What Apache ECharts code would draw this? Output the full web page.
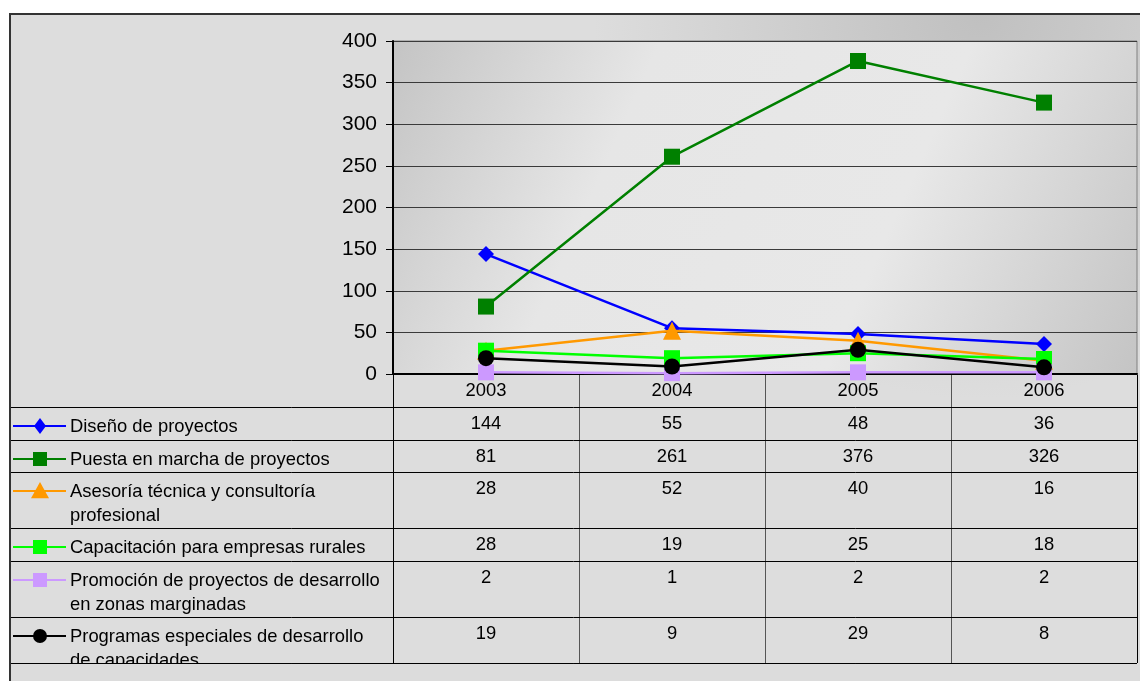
<!DOCTYPE html>
<html>
<head>
<meta charset="utf-8">
<script src="https://cdn.jsdelivr.net/npm/echarts@6/dist/echarts.min.js"></script>
<style>
  html, body { margin: 0; padding: 0; background: #fff; }
  #chart { width: 1140px; height: 681px; }
</style>
</head>
<body>
<div id="chart"></div>
<script>
var years = ['2003', '2004', '2005', '2006'];
var names = [
  'Diseño de proyectos',
  'Puesta en marcha de proyectos',
  'Asesoría técnica y consultoría\nprofesional',
  'Capacitación para empresas rurales',
  'Promoción de proyectos de desarrollo\nen zonas marginadas',
  'Programas especiales de desarrollo\nde capacidades'
];
var diseno = [144, 55, 48, 36];
var puesta = [81, 261, 376, 326];
var asesoria = [28, 52, 40, 16];
var capacitacion = [28, 19, 25, 18];
var promocion = [2, 1, 2, 2];
var programas = [19, 9, 29, 8];
var yTicks = [0, 50, 100, 150, 200, 250, 300, 350, 400];

var values = [diseno, puesta, asesoria, capacitacion, promocion, programas];
var colors = ['#0000ff', '#008000', '#ff9900', '#00ff00', '#cc99ff', '#000000'];
var symbols = ['diamond', 'rect', 'triangle', 'rect', 'rect', 'circle'];
var symSizes = [16, 16, 18, 16, 16, 16];

var font = '"Liberation Sans", Arial, sans-serif';
var chart = echarts.init(document.getElementById('chart'), null, { renderer: 'canvas' });

var series = values.map(function(v, i) {
  return {
    name: names[i].replace('\n', ' '),
    type: 'line',
    data: v,
    symbol: symbols[i],
    symbolSize: symSizes[i],
    showAllSymbol: true,
    lineStyle: { color: colors[i], width: 2.5 },
    itemStyle: { color: colors[i], borderWidth: 0 },
    z: 3 + i
  };
});

chart.setOption({
  animation: false,
  backgroundColor: '#ffffff',
  textStyle: { fontFamily: font },
  grid: {
    left: 393, top: 41, right: 3, bottom: 307,
    show: true,
    borderColor: '#808080',
    borderWidth: 1,
    backgroundColor: {
      type: 'linear', x: 0, y: 0, x2: 1, y2: 1,
      colorStops: [
        { offset: 0, color: '#c4c4c4' }, { offset: 0.3, color: '#e6e6e6' },
        { offset: 0.65, color: '#e8e8e8' }, { offset: 1, color: '#c4c4c4' }
      ]
    }
  },
  xAxis: {
    type: 'category',
    data: years,
    boundaryGap: true,
    axisLine: { lineStyle: { color: '#000', width: 2 } },
    axisTick: { show: false },
    axisLabel: { show: false },
    splitLine: { show: false }
  },
  yAxis: {
    type: 'value',
    min: yTicks[0],
    max: yTicks[yTicks.length - 1],
    interval: 50,
    axisLine: { show: true, lineStyle: { color: '#000', width: 2 } },
    axisTick: { show: true, length: 7, lineStyle: { color: '#000' } },
    axisLabel: { color: '#000', fontSize: 21, fontFamily: font, margin: 16 },
    splitLine: { lineStyle: { color: '#3a3a3a', width: 1 } }
  },
  series: series
});

// data table under the plot
var rowTops = [407, 440, 472, 528, 561, 617, 663];
var headTop = 375;
var tableLeft = 10;
var x0 = chart.convertToPixel({ xAxisIndex: 0 }, 0);
var x1 = chart.convertToPixel({ xAxisIndex: 0 }, 1);
var band = x1 - x0;
var colLeft = x0 - band / 2;
var colRight = colLeft + band * years.length;
var bottom = rowTops[rowTops.length - 1];
var tf = '18.4px ' + font;

var g = [];
// outer background + frame
g.push({
  type: 'rect', z: -10, silent: true,
  shape: { x: 10, y: 14, width: 1140, height: 700 },
  style: {
    fill: {
      type: 'radial', x: 0.85, y: 0, r: 0.55,
      colorStops: [{ offset: 0, color: '#c0c0c0' }, { offset: 1, color: '#dddddd' }]
    },
    stroke: '#333', lineWidth: 2
  }
});
// column lines
for (var c = 0; c <= years.length; c++) {
  var xc = Math.round(colLeft + band * c) + 0.5;
  g.push({ type: 'line', z: 50, silent: true,
    shape: { x1: xc, y1: headTop, x2: xc, y2: bottom },
    style: { stroke: c === 0 || c === years.length ? '#000' : '#555', lineWidth: 1 } });
}
// row lines
for (var r = 0; r < rowTops.length; r++) {
  g.push({ type: 'line', z: 50, silent: true,
    shape: { x1: tableLeft, y1: rowTops[r] + 0.5, x2: colRight, y2: rowTops[r] + 0.5 },
    style: { stroke: '#000', lineWidth: 1 } });
}
// year header
years.forEach(function(y, i) {
  g.push({ type: 'text', z: 50, silent: true,
    x: colLeft + band * (i + 0.5), y: headTop + 16,
    style: { text: y, fill: '#000', font: tf, align: 'center', verticalAlign: 'middle' } });
});
// rows
names.forEach(function(n, i) {
  var top = rowTops[i];
  var my = top + 19;
  g.push({ type: 'line', z: 50, silent: true,
    shape: { x1: 13, y1: my, x2: 66, y2: my },
    style: { stroke: colors[i], lineWidth: 2 } });
  var s = symbols[i], cx = 40, sz = symSizes[i] / 2;
  if (s === 'diamond') {
    g.push({ type: 'polygon', z: 51, silent: true,
      shape: { points: [[cx, my - sz], [cx + sz * 0.75, my], [cx, my + sz], [cx - sz * 0.75, my]] },
      style: { fill: colors[i] } });
  } else if (s === 'triangle') {
    g.push({ type: 'polygon', z: 51, silent: true,
      shape: { points: [[cx, my - sz], [cx + sz, my + sz * 0.8], [cx - sz, my + sz * 0.8]] },
      style: { fill: colors[i] } });
  } else if (s === 'circle') {
    g.push({ type: 'circle', z: 51, silent: true,
      shape: { cx: cx, cy: my, r: sz - 1 }, style: { fill: colors[i] } });
  } else {
    g.push({ type: 'rect', z: 51, silent: true,
      shape: { x: cx - sz + 1, y: my - sz + 1, width: 2 * sz - 2, height: 2 * sz - 2 }, style: { fill: colors[i] } });
  }
  g.push({ type: 'text', z: 50, silent: true,
    x: 70, y: top + 8,
    style: { text: n, fill: '#000', font: tf, lineHeight: 24, verticalAlign: 'top', align: 'left' } });
  values[i].forEach(function(v, k) {
    g.push({ type: 'text', z: 50, silent: true,
      x: colLeft + band * (k + 0.5), y: top + 17,
      style: { text: String(v), fill: '#000', font: tf, align: 'center', verticalAlign: 'middle' } });
  });
});
// strip under the table hides the overflowing label line
g.push({ type: 'rect', z: 55, silent: true,
  shape: { x: 11, y: bottom + 1, width: 1140, height: 30 },
  style: { fill: '#dcdcdc' } });
g.push({ type: 'line', z: 56, silent: true,
  shape: { x1: tableLeft, y1: bottom + 0.5, x2: colRight, y2: bottom + 0.5 },
  style: { stroke: '#000', lineWidth: 1 } });
g.push({ type: 'line', z: 56, silent: true,
  shape: { x1: 10, y1: 14, x2: 10, y2: 681 },
  style: { stroke: '#333', lineWidth: 2 } });

chart.setOption({ graphic: g });
window.addEventListener('resize', function() { chart.resize(); });
</script>
</body>
</html>
